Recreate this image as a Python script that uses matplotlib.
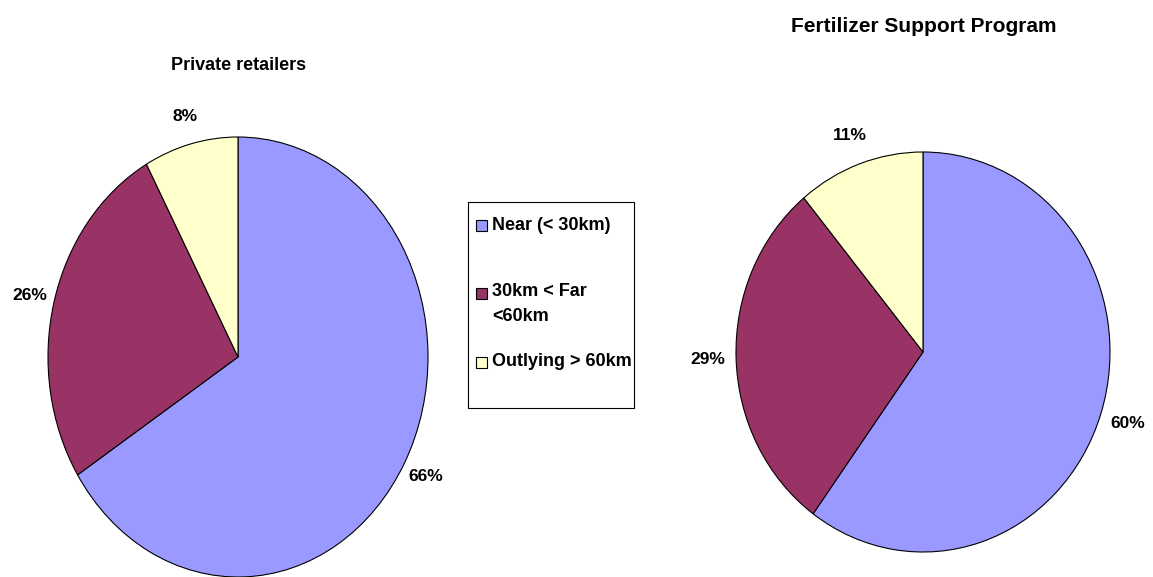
import matplotlib
matplotlib.use("Agg")
import matplotlib.pyplot as plt
from matplotlib.patches import Rectangle

plt.rcParams['font.family'] = ['Liberation Sans', 'DejaVu Sans']

categories = ["Near (< 30km)", "30km < Far\n<60km", "Outlying > 60km"]
private_values = [66, 26, 8]
fsp_values = [60, 29, 11]
titles = ["Private retailers", "Fertilizer Support Program"]
colors = ["#9999FF", "#993366", "#FFFFCC"]

W, H = 1153, 577
fig = plt.figure(figsize=(W / 100, H / 100), dpi=100)


def pie_axes(cx, cy, rx, ry):
    ax = fig.add_axes([(cx - rx) / W, (H - cy - ry) / H, 2 * rx / W, 2 * ry / H])
    ax.axis('off')
    return ax


def draw_pie(ax, values, pctdist):
    wedges, _, autotexts = ax.pie(
        values, colors=colors, startangle=90, counterclock=False,
        autopct=lambda p: f"{p:.0f}%", pctdistance=pctdist, radius=1.0,
        wedgeprops=dict(edgecolor='black', linewidth=0.8),
        textprops=dict(fontsize=12.5, fontweight='bold', color='black'))
    ax.set_xlim(-1, 1)
    ax.set_ylim(-1, 1)
    ax.set_aspect('auto')
    for t in autotexts:
        t.set_clip_on(False)
    for w in wedges:
        w.set_clip_on(False)
    return wedges


ax1 = pie_axes(238, 357, 190, 220)
draw_pie(ax1, private_values, 1.13)
ax2 = pie_axes(923, 352, 187, 200)
draw_pie(ax2, fsp_values, 1.15)

# overlay in pixel coordinates
ov = fig.add_axes([0, 0, 1, 1])
ov.set_xlim(0, W)
ov.set_ylim(H, 0)
ov.axis('off')
ov.patch.set_alpha(0)

ov.text(239, 65, titles[0], ha='center', va='center', fontsize=13, fontweight='bold')
ov.text(924, 27, titles[1], ha='center', va='center', fontsize=15, fontweight='bold')

# legend
ov.add_patch(Rectangle((468, 202), 166, 206, facecolor='white', edgecolor='black', linewidth=0.8))
entry_y = [225, 293, 362]
for c, lab, y in zip(colors, categories, entry_y):
    ov.add_patch(Rectangle((476, y - 5.5), 11, 11, facecolor=c, edgecolor='black', linewidth=0.8))
    if '\n' in lab:
        ov.text(492, y - 10, lab, ha='left', va='top', fontsize=13,
                fontweight='bold', linespacing=1.6)
    else:
        ov.text(492, y, lab, ha='left', va='center', fontsize=13, fontweight='bold')

fig.savefig("out.png", dpi=100, facecolor='white')
